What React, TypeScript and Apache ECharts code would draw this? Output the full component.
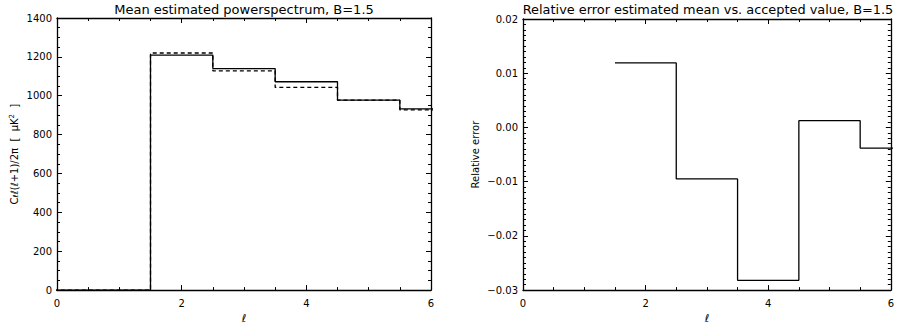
import React, { useEffect, useRef } from "react";
import * as echarts from "echarts";

// ---- data ----
const ell = [0, 1, 2, 3, 4, 5, 6];
const estimatedMean = [0, 0, 1209, 1140, 1072, 977, 932];
const acceptedValue = [0, 0, 1220, 1128, 1043, 977, 927];
const errEll = [2, 3, 4, 5, 6];
const relativeError = [0.0119, -0.0095, -0.0282, 0.00125, -0.0038];
const leftTitle = "Mean estimated powerspectrum, B=1.5";
const rightTitle = "Relative error estimated mean vs. accepted value, B=1.5";

// histogram (IDL psym=10 style): each value spans [l-0.5, l+0.5]
function histogram(xs: number[], ys: number[]): number[][] {
  const pts: number[][] = [];
  xs.forEach((x, i) => {
    pts.push([x - 0.5, ys[i]]);
    pts.push([x + 0.5, ys[i]]);
  });
  return pts;
}

const FONT = "DejaVu Sans";

export default function App() {
  const ref = useRef<HTMLDivElement>(null);
  useEffect(() => {
    if (!ref.current) return;
    const chart = echarts.init(ref.current, undefined, { renderer: "svg" });
    const axisLine = () => ({ show: true, onZero: false, lineStyle: { color: "#000", width: 1.3, opacity: 1 } });
    const tick = () => ({ show: true, inside: true, length: 5, lineStyle: { color: "#000", width: 1, opacity: 1 } });
    const minor = (n: number) => ({ show: true, splitNumber: n, length: 3, lineStyle: { color: "#000", width: 1, opacity: 1 } });
    const label = () => ({ color: "#000", fontFamily: FONT, fontSize: 10 });
    const fmtErr = (v: number) => {
      const x = Math.abs(v) < 1e-9 ? 0 : v;
      return x.toFixed(2).replace("-", "\u2212");
    };
    const fmtInt = (v: number) => String(Math.round(v));

    const xBase = (grid: number, pos: "bottom" | "top", show: boolean) => ({
      type: "value",
      gridIndex: grid,
      position: pos,
      min: 0,
      max: 6,
      interval: 2,
      axisLine: axisLine(),
      axisTick: tick(),
      minorTick: minor(4),
      splitLine: { show: false },
      axisLabel: { ...label(), show, margin: 8, formatter: fmtInt },
      name: show ? "\u2113" : "",
      nameLocation: "middle",
      nameGap: 20,
      nameTextStyle: { color: "#000", fontFamily: FONT, fontSize: 11, fontStyle: "italic" },
    });

    const yBase = (grid: number, pos: "left" | "right", show: boolean, err: boolean) => ({
      type: "value",
      gridIndex: grid,
      position: pos,
      min: err ? -0.03 : 0,
      max: err ? 0.02 : 1400,
      interval: err ? 0.01 : 200,
      axisLine: axisLine(),
      axisTick: tick(),
      minorTick: minor(err ? 10 : 4),
      splitLine: { show: false },
      axisLabel: { ...label(), show, margin: 5, formatter: err ? fmtErr : fmtInt },
    });

    const option: any = {
      animation: false,
      backgroundColor: "#fff",
      grid: [
        { left: 57, top: 18, width: 374, height: 276 },
        { left: 523, top: 19, width: 372.5, height: 274.7 },
      ],
      xAxis: [
        xBase(0, "bottom", true),
        xBase(0, "top", false),
        xBase(1, "bottom", true),
        xBase(1, "top", false),
      ],
      yAxis: [
        {
          ...yBase(0, "left", true, false),
          name: "{t|C}{s|\u2113}{t|\u2113(\u2113+1)/2\u03c0  [  \u03bcK}{p|2}{t|  ]}",
          nameLocation: "middle",
          nameGap: 37,
          nameTextStyle: {
            color: "#000",
            fontFamily: FONT,
            fontSize: 10,
            rich: {
              t: { fontFamily: FONT, fontSize: 10, color: "#000" },
              s: { fontFamily: FONT, fontSize: 7, color: "#000", padding: [4, 0, 0, 0] },
              p: { fontFamily: FONT, fontSize: 7, color: "#000", padding: [0, 0, 5, 0] },
            },
          },
        },
        yBase(0, "right", false, false),
        {
          ...yBase(1, "left", true, true),
          name: "Relative error",
          nameLocation: "middle",
          nameGap: 43,
          nameTextStyle: { color: "#000", fontFamily: FONT, fontSize: 10 },
        },
        yBase(1, "right", false, true),
      ],
      series: [
        {
          type: "line",
          name: "accepted value",
          xAxisIndex: 0,
          yAxisIndex: 0,
          data: histogram(ell, acceptedValue),
          showSymbol: false,
          clip: true,
          lineStyle: { color: "#000", width: 1.3, type: [4, 3] },
          z: 2,
        },
        {
          type: "line",
          name: "estimated mean",
          xAxisIndex: 0,
          yAxisIndex: 0,
          data: histogram(ell, estimatedMean),
          showSymbol: false,
          clip: true,
          lineStyle: { color: "#000", width: 1.3 },
          z: 3,
        },
        {
          type: "line",
          name: "relative error",
          xAxisIndex: 2,
          yAxisIndex: 2,
          data: histogram(errEll, relativeError),
          showSymbol: false,
          clip: true,
          lineStyle: { color: "#000", width: 1.3 },
        },
      ],
      graphic: [
        {
          type: "text",
          x: 244,
          y: 9,
          style: {
            text: leftTitle,
            align: "center",
            verticalAlign: "middle",
            font: `13px '${FONT}'`,
            fill: "#000",
          },
        },
        {
          type: "text",
          x: 708,
          y: 9,
          style: {
            text: rightTitle,
            align: "center",
            verticalAlign: "middle",
            font: `12.9px '${FONT}'`,
            fill: "#000",
          },
        },
      ],
    };
    chart.setOption(option);
    return () => chart.dispose();
  }, []);
  return (
    <div
      ref={ref}
      style={{ width: 897, height: 329, position: "absolute", left: 0, top: 0, overflow: "hidden" }}
    />
  );
}
